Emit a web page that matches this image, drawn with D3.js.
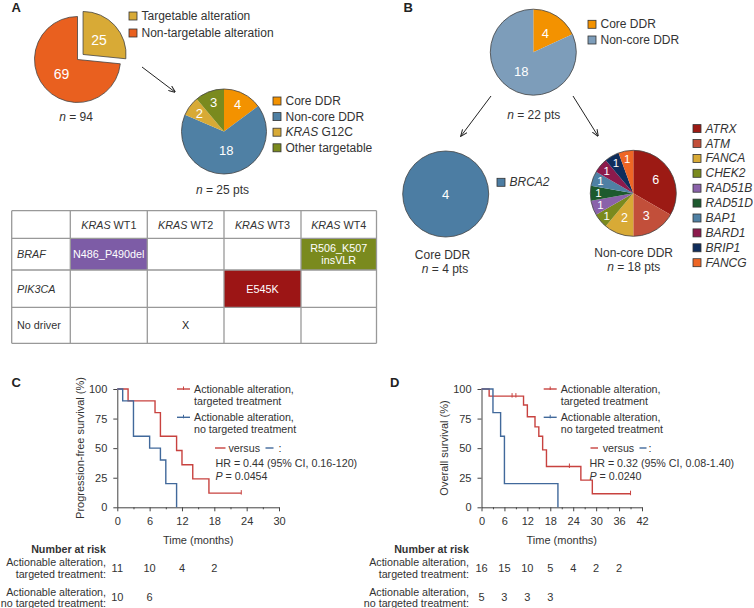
<!DOCTYPE html>
<html>
<head>
<meta charset="utf-8">
<script src="https://cdn.jsdelivr.net/npm/d3@7"></script>
<style>
  body { margin: 0; background: #fff; }
  svg { font-family: 'Liberation Sans', Arial, sans-serif; fill: #333; }
</style>
</head>
<body>
<script>
// ---- data ----
const alterationValues = [25, 69]
const alterationLabels = ['Targetable alteration', 'Non-targetable alteration']
const targetableValues = [4, 18, 2, 3]
const targetableLabels = ['Core DDR', 'Non-core DDR', '*KRAS* G12C', 'Other targetable']
const ddrValues = [4, 18]
const ddrLabels = ['Core DDR', 'Non-core DDR']
const coreValues = [4]
const coreLabels = ['*BRCA2*']
const nonCoreValues = [6, 3, 2, 1, 1, 1, 1, 1, 1, 1]
const nonCoreLabels = ['*ATRX*', '*ATM*', '*FANCA*', '*CHEK2*', '*RAD51B*', '*RAD51D*', '*BAP1*', '*BARD1*', '*BRIP1*', '*FANCG*']

const tableCols = ['*KRAS* WT1', '*KRAS* WT2', '*KRAS* WT3', '*KRAS* WT4']
const tableRows = ['*BRAF*', '*PIK3CA*', 'No driver']
const tableCells = [
  { row: 0, col: 0, text: ['N486_P490del'] },
  { row: 0, col: 3, text: ['R506_K507', 'insVLR'] },
  { row: 1, col: 2, text: ['E545K'] },
  { row: 2, col: 1, text: ['X'] }
]

// Kaplan-Meier steps: time (months) -> survival (%)
const pfsTargetedTimes = [0, 2, 7, 8, 11, 12, 14, 17, 23]
const pfsTargetedSurv = [100, 90, 80, 60, 48, 36, 24, 12, 12]
const pfsTargetedCensor = [23]
const pfsNoTargetTimes = [0, 1, 3, 6, 8, 9, 11]
const pfsNoTargetSurv = [100, 90, 60, 50, 40, 20, 0]

const osTargetedTimes = [0, 2, 11, 12, 14, 15, 16, 17, 26, 29, 39]
const osTargetedSurv = [100, 94, 86.5, 76.5, 68, 60, 48.5, 34.5, 23, 11.5, 11.5]
const osTargetedCensor = [8, 9, 23, 39]
const osNoTargetTimes = [0, 3, 5, 6, 20]
const osNoTargetSurv = [100, 80, 60, 20, 0]

const pfsRiskTimes = [0, 6, 12, 18]
const pfsRiskTargeted = [11, 10, 4, 2]
const pfsRiskNoTarget = [10, 6]
const osRiskTimes = [0, 6, 12, 18, 24, 30, 36]
const osRiskTargeted = [16, 15, 10, 5, 4, 2, 2]
const osRiskNoTarget = [5, 3, 3, 3]

// ---- colours ----
const cTarget = '#d8aa36'
const cNonTarget = '#e9601f'
const cCore = '#f39200'
const cNonCore = '#4f80a4'
const cOther = '#7a8a1e'
const nonCoreColors = ['#9c1a14', '#c24f3a', '#d8aa36', '#7a8a1e', '#8a62aa', '#1d5a2e', '#4f80a4', '#8c1a4c', '#0f2d5c', '#ee6625']
const cellColors = ['#7d5ca6', '#7a8a1e', '#9c1515', null]
const red = '#c8423f'
const blue = '#41699b'

const svg = d3.select('body').append('svg')
  .attr('width', 754)
  .attr('height', 608)

// arrow head
svg.append('defs').append('marker')
  .attr('id', 'arrow')
  .attr('viewBox', '0 0 10 10')
  .attr('refX', 9).attr('refY', 5)
  .attr('markerWidth', 7).attr('markerHeight', 7)
  .attr('orient', 'auto')
  .append('path')
  .attr('d', 'M0,1 L10,5 L0,9')
  .attr('fill', 'none')
  .attr('stroke', '#222')
  .attr('stroke-width', 1.4)

// text with *italic* parts
function rich(sel, str) {
  str.split('*').forEach((part, i) => {
    if (part) sel.append('tspan').attr('font-style', i % 2 ? 'italic' : null).text(part)
  })
  return sel
}

function label(x, y, str, size, anchor) {
  const t = svg.append('text')
    .attr('x', x).attr('y', y)
    .attr('font-size', size || 12)
    .attr('text-anchor', anchor || 'start')
    .attr('dominant-baseline', 'central')
    .attr('fill', '#333')
  return rich(t, str)
}

function drawPie(cx, cy, r, values, colors, opts) {
  opts = opts || {}
  const arcs = d3.pie().sort(null).value(d => d)(values)
  const arc = d3.arc().innerRadius(0).outerRadius(r)
  const g = svg.append('g').attr('transform', 'translate(' + cx + ',' + cy + ')')
  const offset = d => {
    if (opts.explode == null || d.index !== opts.explode) return null
    const a = (d.startAngle + d.endAngle) / 2
    return 'translate(' + Math.sin(a) * 7.5 + ',' + -Math.cos(a) * 7.5 + ')'
  }
  g.selectAll('path')
    .data(arcs)
    .join('path')
    .attr('d', arc)
    .attr('fill', (d, i) => colors[i])
    .attr('transform', offset)
    .attr('stroke', opts.explode != null ? '#444' : 'none')
    .attr('stroke-width', 0.8)
  if (opts.explode == null) {
    g.append('circle').attr('r', r).attr('fill', 'none').attr('stroke', '#444').attr('stroke-width', 0.8)
  }
  const total = d3.sum(values)
  g.selectAll('text')
    .data(arcs)
    .join('text')
    .attr('transform', d => {
      if (values.length === 1) return 'translate(0,0)'
      const a = (d.startAngle + d.endAngle) / 2
      const k = opts.labelRadius ? opts.labelRadius(d.value / total) : 0.5
      let dx = 0, dy = 0
      if (opts.explode != null && d.index === opts.explode) { dx = Math.sin(a) * 7.5; dy = -Math.cos(a) * 7.5 }
      return 'translate(' + (Math.sin(a) * r * k + dx) + ',' + (-Math.cos(a) * r * k + dy) + ')'
    })
    .attr('text-anchor', 'middle')
    .attr('dominant-baseline', 'central')
    .attr('fill', '#fff')
    .attr('font-size', d => (opts.smallFont && d.value / total < 0.08 ? opts.smallFont : (opts.fontSize || 13)))
    .text(d => d.value)
}

function legend(x, y0, dy, labels, colors) {
  labels.forEach((l, i) => {
    svg.append('rect')
      .attr('x', x).attr('y', y0 + i * dy - 4)
      .attr('width', 8).attr('height', 8)
      .attr('fill', colors[i])
      .attr('stroke', '#333').attr('stroke-width', 0.8)
    label(x + 12.5, y0 + i * dy, l, 12)
  })
}

function arrow(x1, y1, x2, y2) {
  svg.append('line')
    .attr('x1', x1).attr('y1', y1).attr('x2', x2).attr('y2', y2)
    .attr('stroke', '#222').attr('stroke-width', 1)
    .attr('marker-end', 'url(#arrow)')
}

function panelLetter(x, y, s) {
  svg.append('text').attr('x', x).attr('y', y)
    .attr('font-size', 13).attr('font-weight', 'bold').attr('fill', '#222').text(s)
}

// ---- panel A ----
panelLetter(11.5, 12, 'A')
drawPie(77.5, 59.5, 43, alterationValues, [cTarget, cNonTarget], { explode: 0, fontSize: 14 })
legend(129, 16, 17, alterationLabels, [cTarget, cNonTarget])
label(76, 117, '*n* = 94', 12, 'middle')
arrow(142, 67, 175, 92)

drawPie(224, 131.5, 42.5, targetableValues, [cCore, cNonCore, cTarget, cOther],
  { labelRadius: f => (f < 0.2 ? 0.72 : 0.46) })
legend(273, 101, 15.6, targetableLabels, [cCore, cNonCore, cTarget, cOther])
label(222.5, 190, '*n* = 25 pts', 12, 'middle')

// table
const colEdges = [11.7, 70.3, 147.3, 224, 301, 376.5]
const rowEdges = [210.7, 238.3, 270, 307.3, 343.3]
const tg = svg.append('g')
tableCells.forEach((c, i) => {
  if (!cellColors[i]) return
  tg.append('rect')
    .attr('x', colEdges[c.col + 1]).attr('y', rowEdges[c.row + 1])
    .attr('width', colEdges[c.col + 2] - colEdges[c.col + 1])
    .attr('height', rowEdges[c.row + 2] - rowEdges[c.row + 1])
    .attr('fill', cellColors[i])
})
rowEdges.forEach(y => {
  tg.append('line').attr('x1', colEdges[0]).attr('x2', colEdges[colEdges.length - 1])
    .attr('y1', y).attr('y2', y).attr('stroke', '#999').attr('stroke-width', 1.3)
})
colEdges.forEach(x => {
  tg.append('line').attr('x1', x).attr('x2', x)
    .attr('y1', rowEdges[0]).attr('y2', rowEdges[rowEdges.length - 1]).attr('stroke', '#999').attr('stroke-width', 1.3)
})
tableCols.forEach((c, i) => {
  label((colEdges[i + 1] + colEdges[i + 2]) / 2, (rowEdges[0] + rowEdges[1]) / 2, c, 10.8, 'middle')
})
tableRows.forEach((r, i) => {
  label(17, (rowEdges[i + 1] + rowEdges[i + 2]) / 2, r, 10.8, 'start')
})
tableCells.forEach((c, i) => {
  const cx = (colEdges[c.col + 1] + colEdges[c.col + 2]) / 2
  const cy = (rowEdges[c.row + 1] + rowEdges[c.row + 2]) / 2
  c.text.forEach((t, j) => {
    label(cx, cy + (j - (c.text.length - 1) / 2) * 12, t, 10.8, 'middle')
      .attr('fill', cellColors[i] ? '#fff' : '#222')
  })
})

// ---- panel B ----
panelLetter(403.5, 12, 'B')
drawPie(533.3, 52.2, 43, ddrValues, [cCore, '#7d9dba'], { labelRadius: () => 0.52 })
legend(588, 24.3, 15.7, ddrLabels, [cCore, '#7d9dba'])
label(533.7, 115, '*n* = 22 pts', 12, 'middle')
arrow(491, 96, 461, 136)
arrow(573, 96, 598, 136)

drawPie(445.7, 194, 43, coreValues, ['#4c7da3'])
legend(497, 182.3, 15, coreLabels, ['#4c7da3'])
label(442.5, 254.5, 'Core DDR', 12, 'middle')
label(445, 268.5, '*n* = 4 pts', 12, 'middle')

drawPie(633.3, 193.3, 43, nonCoreValues, nonCoreColors,
  { labelRadius: f => (f < 0.08 ? 0.81 : 0.6), fontSize: 12.5, smallFont: 11.5 })
legend(693, 128.6, 14.9, nonCoreLabels, nonCoreColors)
label(633.7, 252.5, 'Non-core DDR', 12, 'middle')
label(633.7, 266.5, '*n* = 18 pts', 12, 'middle')

// ---- panels C and D ----
const kmFont = 10.7

function survAt(times, surv, t) {
  let v = surv[0]
  times.forEach((tt, i) => { if (tt <= t) v = surv[i] })
  return v
}

function kmPanel(o) {
  const x = d3.scaleLinear().domain([0, o.xMax]).range([o.x0, o.x1])
  const y = d3.scaleLinear().domain([0, 100]).range([507.3, 389])
  const g = svg.append('g').attr('font-family', "'Liberation Sans', Arial, sans-serif")

  g.append('g').attr('transform', 'translate(' + o.x0 + ',0)')
    .call(d3.axisLeft(y).tickValues([0, 25, 50, 75, 100]).tickSize(4).tickSizeOuter(0).tickPadding(6))
  g.append('g').attr('transform', 'translate(0,507.3)')
    .call(d3.axisBottom(x).tickValues(d3.range(0, o.xMax + 1, 6)).tickSize(4).tickSizeOuter(0).tickPadding(6))
  g.append('g').attr('transform', 'translate(0,507.3)')
    .call(d3.axisBottom(x).tickValues(d3.range(3, o.xMax, 6)).tickSize(2).tickSizeOuter(0).tickFormat(''))
    .select('.domain').remove()
  g.selectAll('.tick text').attr('font-size', 11).attr('fill', '#333')
  g.selectAll('.domain, .tick line').attr('stroke', '#444')

  svg.append('text')
    .attr('transform', 'translate(' + o.yLabelX + ',448) rotate(-90)')
    .attr('text-anchor', 'middle').attr('dominant-baseline', 'central')
    .attr('font-size', 11).attr('fill', '#333').text(o.yLabel)
  label((o.x0 + o.x1) / 2, 539.5, 'Time (months)', 11, 'middle')

  const line = d3.line().x(d => x(d[0])).y(d => y(d[1])).curve(d3.curveStepAfter)
  o.series.forEach(s => {
    g.append('path')
      .datum(d3.zip(s.times, s.surv))
      .attr('d', line)
      .attr('fill', 'none')
      .attr('stroke', s.color)
      .attr('stroke-width', 1.4)
    ;(s.censor || []).forEach(t => {
      const yy = y(survAt(s.times, s.surv, t))
      g.append('line').attr('x1', x(t)).attr('x2', x(t))
        .attr('y1', yy - 3).attr('y2', yy + 1.5)
        .attr('stroke', s.color).attr('stroke-width', 1)
    })
  })

  // legend
  o.series.forEach((s, i) => {
    const ly = 389 + i * 28.3
    g.append('line').attr('x1', o.legX).attr('x2', o.legX + 13).attr('y1', ly).attr('y2', ly)
      .attr('stroke', s.color).attr('stroke-width', 1.4)
    g.append('line').attr('x1', o.legX + 6.5).attr('x2', o.legX + 6.5).attr('y1', ly - 2.5).attr('y2', ly + 1)
      .attr('stroke', s.color).attr('stroke-width', 1)
    label(o.legX + 17, ly, 'Actionable alteration,', kmFont)
    label(o.legX + 17, ly + 11.7, s.name, kmFont)
  })

  // versus / HR / P
  const v = o.versus
  g.append('line').attr('x1', v[0]).attr('x2', v[1]).attr('y1', 448).attr('y2', 448)
    .attr('stroke', o.series[0].color).attr('stroke-width', 1.4)
  label(v[2], 448, 'versus', kmFont)
  g.append('line').attr('x1', v[3]).attr('x2', v[4]).attr('y1', 448).attr('y2', 448)
    .attr('stroke', o.series[1].color).attr('stroke-width', 1.4)
  label(v[5], 448, ':', kmFont)
  label(o.statX, 463, o.hr, kmFont)
  label(o.statX, 476, '*P* = ' + o.p, kmFont)

  // number at risk
  label(o.riskX, 549, 'Number at risk', kmFont, 'end').attr('font-weight', 'bold')
  label(o.riskX, 561.5, 'Actionable alteration,', kmFont, 'end')
  label(o.riskX, 573.5, 'targeted treatment:', kmFont, 'end')
  label(o.riskX, 591.5, 'Actionable alteration,', kmFont, 'end')
  label(o.riskX, 602.5, 'no targeted treatment:', kmFont, 'end')
  o.riskTimes.forEach((t, i) => {
    if (o.risk1[i] != null) label(x(t), 567.5, String(o.risk1[i]), 11, 'middle')
    if (o.risk2[i] != null) label(x(t), 597, String(o.risk2[i]), 11, 'middle')
  })
}

panelLetter(11.5, 387, 'C')
kmPanel({
  xMax: 30, x0: 117.3, x1: 279,
  yLabel: 'Progression-free survival (%)', yLabelX: 79.5,
  series: [
    { name: 'targeted treatment', times: pfsTargetedTimes, surv: pfsTargetedSurv, censor: pfsTargetedCensor, color: red },
    { name: 'no targeted treatment', times: pfsNoTargetTimes, surv: pfsNoTargetSurv, color: blue }
  ],
  legX: 177,
  versus: [215, 225.5, 228.5, 265.5, 273.5, 278.5],
  statX: 215.5,
  hr: 'HR = 0.44 (95% CI, 0.16-120)',
  p: '0.0454',
  riskX: 106,
  riskTimes: pfsRiskTimes, risk1: pfsRiskTargeted, risk2: pfsRiskNoTarget
})

panelLetter(390, 387, 'D')
kmPanel({
  xMax: 42, x0: 481.5, x1: 642,
  yLabel: 'Overall survival (%)', yLabelX: 444,
  series: [
    { name: 'targeted treatment', times: osTargetedTimes, surv: osTargetedSurv, censor: osTargetedCensor, color: red },
    { name: 'no targeted treatment', times: osNoTargetTimes, surv: osNoTargetSurv, color: blue }
  ],
  legX: 543.7,
  versus: [590.5, 598, 602.7, 639.5, 646.5, 648.5],
  statX: 589.5,
  hr: 'HR = 0.32 (95% CI, 0.08-1.40)',
  p: '0.0240',
  riskX: 469,
  riskTimes: osRiskTimes, risk1: osRiskTargeted, risk2: osRiskNoTarget
})
</script>
</body>
</html>
